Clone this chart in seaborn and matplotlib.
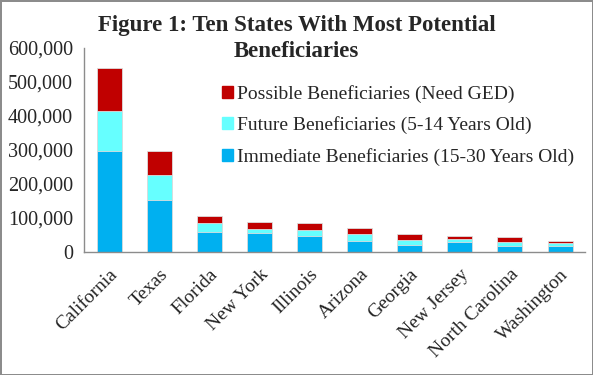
import numpy as np
import pandas as pd
import matplotlib
matplotlib.use('Agg')
import matplotlib.pyplot as plt
import seaborn as sns
from matplotlib.patches import Patch
from matplotlib.ticker import FuncFormatter, FixedLocator

states = ["California", "Texas", "Florida", "New York", "Illinois",
          "Arizona", "Georgia", "New Jersey", "North Carolina", "Washington"]
immediate = [298000, 153000, 59000, 55000, 48000, 33000, 21000, 30000, 19000, 19000]
future = [116000, 73000, 26000, 14000, 17000, 21000, 15000, 9000, 10000, 7000]
possible = [127000, 72000, 21000, 19000, 19000, 16000, 16000, 8000, 15000, 7000]

c_imm = "#00B0F0"
c_fut = "#66FFFF"
c_pos = "#C00000"

df = pd.DataFrame({"state": states, "immediate": immediate,
                   "future": future, "possible": possible})
df["lvl2"] = df["immediate"] + df["future"]
df["lvl3"] = df["lvl2"] + df["possible"]

sns.set_style("white")
plt.rcParams["font.family"] = ["Liberation Serif", "DejaVu Serif"]

fig = plt.figure(figsize=(5.93, 3.75), dpi=100, edgecolor="#8c8c8c", linewidth=2)
ax = fig.add_axes([0.1417, 0.328, 0.845, 0.544])

# stacked look: draw cumulative totals back to front
for col, c in [("lvl3", c_pos), ("lvl2", c_fut), ("immediate", c_imm)]:
    sns.barplot(data=df, x="state", y=col, color=c, width=0.5, saturation=1,
                edgecolor="#dddddd", linewidth=0.6, ax=ax, order=states)

ax.set_ylim(0, 600000)
ax.set_xlim(-0.5, 9.5)
ax.set_yticks(np.arange(0, 600001, 100000))
ax.yaxis.set_major_formatter(FuncFormatter(lambda v, p: f"{int(v):,}"))
ax.set_xlabel("")
ax.set_ylabel("")
ax.xaxis.set_minor_locator(FixedLocator(np.arange(-0.5, 10, 1)))
ax.tick_params(axis="x", which="major", length=0, pad=10)
ax.tick_params(axis="x", which="minor", length=5, width=1, color="#8c8c8c", direction="out")
ax.tick_params(axis="y", length=5, width=1, color="#8c8c8c", direction="out", pad=3)
ax.set_xticks(range(len(states)))
ax.set_xticklabels(states, rotation=45, ha="right", rotation_mode="anchor", fontsize=14)
for lab in ax.get_yticklabels():
    lab.set_fontsize(14.5)

sns.despine(ax=ax, top=True, right=True)
for s in ["left", "bottom"]:
    ax.spines[s].set_color("#8c8c8c")
    ax.spines[s].set_linewidth(1)

fig.text(0.5, 0.96, "Figure 1: Ten States With Most Potential\nBeneficiaries",
         ha="center", va="top", fontsize=16.5, fontweight="bold", linespacing=1.3)

handles = [Patch(color=c_pos), Patch(color=c_fut), Patch(color=c_imm)]
labels = ["Possible Beneficiaries (Need GED)",
          "Future Beneficiaries (5-14 Years Old)",
          "Immediate Beneficiaries (15-30 Years Old)"]
fig.legend(handles, labels, loc="upper left", bbox_to_anchor=(0.358, 0.8),
           frameon=False, fontsize=14, handlelength=0.55, handleheight=0.55,
           handletextpad=0.2, labelspacing=0.7, borderpad=0)

fig.savefig("out.png", dpi=100)
